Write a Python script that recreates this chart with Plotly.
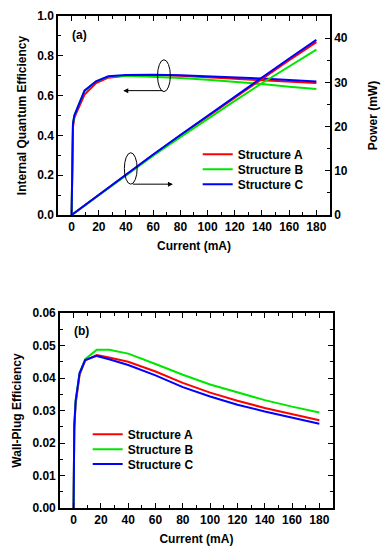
import plotly.graph_objects as go

# ---------------- data ----------------
current_iqe = [0, 0.5, 1, 2, 4.5, 9.5, 18, 27, 40, 60, 80, 100, 120, 140, 160, 180]
iqe_A = [0, 0.38, 0.44, 0.49, 0.53, 0.605, 0.663, 0.690, 0.700, 0.703, 0.700, 0.694, 0.685, 0.677, 0.670, 0.663]
iqe_B = [0, 0.40, 0.46, 0.50, 0.545, 0.625, 0.672, 0.695, 0.700, 0.695, 0.688, 0.680, 0.670, 0.658, 0.645, 0.633]
iqe_C = [0, 0.40, 0.46, 0.50, 0.545, 0.625, 0.672, 0.697, 0.704, 0.705, 0.702, 0.697, 0.691, 0.686, 0.678, 0.671]

current_pow = [0, 20, 40, 60, 80, 100, 120, 140, 160, 180]
pow_A = [0, 4.6, 9.1, 13.6, 18.0, 22.3, 26.6, 30.8, 35.0, 39.1]
pow_B = [0, 4.5, 9.0, 13.4, 17.6, 21.8, 25.8, 29.8, 33.6, 37.4]
pow_C = [0, 4.6, 9.2, 13.7, 18.1, 22.5, 26.9, 31.1, 35.4, 39.6]

current_wpe = [0, 0.5, 1.5, 4.4, 8.5, 17, 26, 40, 60, 80, 100, 120, 140, 160, 180]
wpe_A = [0, 0.024, 0.032, 0.0410, 0.0454, 0.0471, 0.0463, 0.0450, 0.0420, 0.0385, 0.0355, 0.0330, 0.0308, 0.0288, 0.0270]
wpe_B = [0, 0.025, 0.033, 0.0415, 0.0458, 0.0487, 0.0487, 0.0475, 0.0443, 0.0410, 0.0380, 0.0355, 0.0332, 0.0312, 0.0294]
wpe_C = [0, 0.025, 0.033, 0.0415, 0.0455, 0.0468, 0.0458, 0.0440, 0.0408, 0.0372, 0.0343, 0.0318, 0.0297, 0.0277, 0.0259]

names = ["Structure A", "Structure B", "Structure C"]
colors = ["#ff0000", "#00e600", "#0000ff"]

FONT = "Arial, Liberation Sans, sans-serif"

fig = go.Figure()

top_legends = ["legend", "legend2", "legend3"]
bot_legends = ["legend4", "legend5", "legend6"]

for n, c, v in zip(names, colors, [iqe_A, iqe_B, iqe_C]):
    fig.add_trace(go.Scatter(x=current_iqe, y=v, mode="lines", line=dict(color=c, width=2),
                             xaxis="x", yaxis="y", showlegend=False, name=n))
for n, c, v, lg in zip(names, colors, [pow_A, pow_B, pow_C], top_legends):
    fig.add_trace(go.Scatter(x=current_pow, y=v, mode="lines", line=dict(color=c, width=2),
                             xaxis="x", yaxis="y2", legend=lg, name=n))
for n, c, v, lg in zip(names, colors, [wpe_A, wpe_B, wpe_C], bot_legends):
    fig.add_trace(go.Scatter(x=current_wpe, y=v, mode="lines", line=dict(color=c, width=2),
                             xaxis="x2", yaxis="y3", legend=lg, name=n))

tickfont = dict(family=FONT, size=12, color="black", weight="bold")
titlefont = dict(family=FONT, size=12, color="black", weight="bold")
legfont = dict(family=FONT, size=12, color="black", weight="bold")

def xax(domain, anchor):
    return dict(domain=domain, anchor=anchor, range=[-10, 190], tick0=0, dtick=20,
                ticks="inside", ticklen=5, tickwidth=1.2, tickcolor="black",
                minor=dict(dtick=10, ticks="inside", ticklen=3, tickwidth=1.2, tickcolor="black"),
                showline=True, linecolor="black", linewidth=1.5, mirror="ticks",
                showgrid=False, zeroline=False, tickfont=tickfont, automargin=False,
                title=dict(text="Current (mA)", font=titlefont, standoff=8))

top_dom = [0.5955, 1.0]
bot_dom = [0.0, 0.3963]

def leg(x, y):
    return dict(x=x, y=y, xanchor="left", yanchor="middle", bgcolor="rgba(0,0,0,0)",
                font=legfont, borderwidth=0)

top_rows = [0.7189, 0.6884, 0.6579]
bot_rows = [0.1498, 0.1193, 0.0894]

layout_legends = {}
for lg, yy in zip(top_legends, top_rows):
    layout_legends[lg] = leg(0.508, yy)
for lg, yy in zip(bot_legends, bot_rows):
    layout_legends[lg] = leg(0.108, yy)

fig.update_layout(
    width=382, height=550,
    margin=dict(l=58, r=49, t=16, b=42, autoexpand=False),
    paper_bgcolor="white", plot_bgcolor="white",
    xaxis=xax([0, 0.989], "y"),
    xaxis2=xax([0.007, 1.0], "y3"),
    yaxis=dict(domain=top_dom, anchor="x", range=[0, 1], tick0=0, dtick=0.2, tickformat=".1f",
               ticks="inside", ticklen=5, tickwidth=1.2, tickcolor="black",
               minor=dict(dtick=0.1, ticks="inside", ticklen=3, tickwidth=1.2, tickcolor="black"),
               showline=True, linecolor="black", linewidth=1.5, automargin=False,
               showgrid=False, zeroline=False, tickfont=tickfont,
               title=dict(text="Internal Quantum Efficiency", font=titlefont, standoff=8)),
    yaxis2=dict(overlaying="y", side="right", anchor="x", range=[0, 45], tick0=0, dtick=10,
                ticks="inside", ticklen=5, tickwidth=1.2, tickcolor="black",
                minor=dict(dtick=5, ticks="inside", ticklen=3, tickwidth=1.2, tickcolor="black"),
                showline=True, linecolor="black", linewidth=1.5, automargin=False,
                showgrid=False, zeroline=False, tickfont=tickfont,
                title=dict(text="Power (mW)", font=titlefont, standoff=22)),
    yaxis3=dict(domain=bot_dom, anchor="x2", range=[0, 0.06], tick0=0, dtick=0.01, tickformat=".2f",
                ticks="inside", ticklen=5, tickwidth=1.2, tickcolor="black",
                minor=dict(dtick=0.005, ticks="inside", ticklen=3, tickwidth=1.2, tickcolor="black"),
                showline=True, linecolor="black", linewidth=1.5, mirror="ticks", automargin=False,
                showgrid=False, zeroline=False, tickfont=tickfont,
                title=dict(text="Wall-Plug Efficiency", font=titlefont, standoff=8)),
    showlegend=True,
    **layout_legends,
)

fig.add_shape(type="circle", xref="x", yref="y", x0=63.2, x1=72.6, y0=0.62, y1=0.78,
              line=dict(color="black", width=1))
fig.add_shape(type="circle", xref="x", yref="y", x0=38.8, x1=48.2, y0=0.155, y1=0.313,
              line=dict(color="black", width=1))
fig.add_annotation(x=38, y=0.625, ax=68, ay=0.625, xref="x", yref="y", axref="x", ayref="y",
                   text="", showarrow=True, arrowhead=2, arrowsize=1, arrowwidth=1, arrowcolor="black")
fig.add_annotation(x=74.5, y=0.155, ax=44, ay=0.155, xref="x", yref="y", axref="x", ayref="y",
                   text="", showarrow=True, arrowhead=2, arrowsize=1, arrowwidth=1, arrowcolor="black")

fig.add_annotation(x=-1.5, y=0.905, xref="x", yref="y", text="(a)", showarrow=False,
                   xanchor="left", font=dict(family=FONT, size=12, color="black", weight="bold"))
fig.add_annotation(x=-1, y=0.0545, xref="x2", yref="y3", text="(b)", showarrow=False,
                   xanchor="left", font=dict(family=FONT, size=12, color="black", weight="bold"))

fig.write_html("out.html", config={"displayModeBar": False},
               post_script="document.body.style.margin='0px';")
